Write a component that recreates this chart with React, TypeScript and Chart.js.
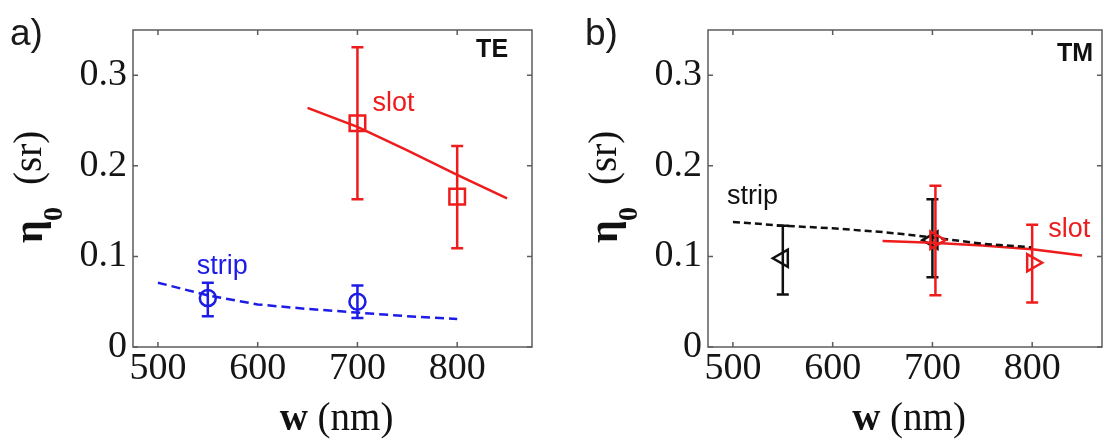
import React, { useEffect, useRef } from "react";
import { Chart, registerables } from "chart.js";

Chart.register(...registerables);

// Shared axis ticks
const xTicks = [500, 600, 700, 800];
const yTicks = [0, 0.1, 0.2, 0.3];
const yTickLabels = ["0", "0.1", "0.2", "0.3"];

// a) TE: slot waveguide (simulation + measurement)
const teSlotFitW = [650, 700, 750, 800, 850];
const teSlotFit = [0.264, 0.243, 0.217, 0.19, 0.164];
const teSlotW = [700, 800];
const teSlot = [0.247, 0.166];
const teSlotLo = [0.163, 0.109];
const teSlotHi = [0.331, 0.222];

// a) TE: strip waveguide
const teStripFitW = [500, 550, 600, 650, 700, 750, 800];
const teStripFit = [0.071, 0.057, 0.047, 0.042, 0.038, 0.034, 0.031];
const teStripW = [550, 700];
const teStrip = [0.054, 0.05];
const teStripLo = [0.034, 0.032];
const teStripHi = [0.071, 0.068];

// b) TM: strip waveguide
const tmStripFitW = [500, 550, 600, 650, 700, 750, 800];
const tmStripFit = [0.138, 0.134, 0.131, 0.127, 0.121, 0.114, 0.11];
const tmStripW = [550, 700];
const tmStrip = [0.098, 0.118];
const tmStripLo = [0.058, 0.077];
const tmStripHi = [0.134, 0.163];

// b) TM: slot waveguide
const tmSlotFitW = [650, 700, 750, 800, 850];
const tmSlotFit = [0.117, 0.115, 0.112, 0.108, 0.101];
const tmSlotW = [703, 800];
const tmSlot = [0.118, 0.093];
const tmSlotLo = [0.057, 0.049];
const tmSlotHi = [0.178, 0.135];

const RED = "#ee1c1c";
const BLUE = "#1c1ce6";
const BLACK = "#111111";
const SERIF = '"Liberation Serif", "Times New Roman", serif';
const SANS = '"Liberation Sans", Arial, sans-serif';

const pts = (xs: number[], ys: number[]) => xs.map((x, i) => ({ x, y: ys[i] }));

const fitLine = (xs: number[], ys: number[], color: string, dash: number[]) => ({
  data: pts(xs, ys),
  showLine: true,
  borderColor: color,
  borderWidth: 2.5,
  borderDash: dash,
  pointRadius: 0,
  tension: 0,
});

const measured = (
  xs: number[], ys: number[], lo: number[], hi: number[],
  color: string, style: string, radius: number, rotation = 0
) => ({
  data: pts(xs, ys),
  showLine: false,
  borderColor: color,
  backgroundColor: "rgba(0,0,0,0)",
  pointStyle: style,
  pointRadius: radius,
  pointRotation: rotation,
  pointBorderWidth: 2.5,
  pointBackgroundColor: "rgba(0,0,0,0)",
  pointBorderColor: color,
  errLo: lo,
  errHi: hi,
});

type Note = { text: string; w: number; v: number; color: string; align: CanvasTextAlign; bold?: boolean };

type PanelSpec = {
  letter: string;
  xMax: number;
  padRight: number;
  datasets: any[];
  notes: Note[];
};

const panelA: PanelSpec = {
  letter: "a)",
  xMax: 875,
  padRight: 23,
  datasets: [
    measured(teSlotW, teSlot, teSlotLo, teSlotHi, RED, "rect", 11),
    fitLine(teSlotFitW, teSlotFit, RED, []),
    measured(teStripW, teStrip, teStripLo, teStripHi, BLUE, "circle", 8),
    fitLine(teStripFitW, teStripFit, BLUE, [9, 5]),
  ],
  notes: [
    { text: "slot", w: 715, v: 0.261, color: RED, align: "left" },
    { text: "strip", w: 539, v: 0.081, color: BLUE, align: "left" },
    { text: "TE", w: 851, v: 0.32, color: BLACK, align: "right", bold: true },
  ],
};

const panelB: PanelSpec = {
  letter: "b)",
  xMax: 870,
  padRight: 28,
  datasets: [
    measured(tmSlotW, tmSlot, tmSlotLo, tmSlotHi, RED, "triangle", 10, 90),
    fitLine(tmStripFitW, tmStripFit, BLACK, [7, 4]),
    fitLine(tmSlotFitW, tmSlotFit, RED, []),
    measured(tmStripW, tmStrip, tmStripLo, tmStripHi, BLACK, "triangle", 10, -90),
  ],
  notes: [
    { text: "strip", w: 494, v: 0.158, color: BLACK, align: "left" },
    { text: "slot", w: 816, v: 0.121, color: RED, align: "left" },
    { text: "TM", w: 861, v: 0.316, color: BLACK, align: "right", bold: true },
  ],
};

// Vertical error bars with caps, drawn right after their dataset
const errorBarPlugin = {
  id: "errorBars",
  afterDatasetDraw(chart: any, args: any) {
    const ds = chart.data.datasets[args.index];
    if (!ds.errLo) return;
    const { ctx, scales } = chart;
    ctx.save();
    ctx.strokeStyle = ds.borderColor;
    ctx.lineWidth = 2.5;
    ctx.beginPath();
    ds.data.forEach((p: any, i: number) => {
      const px = scales.x.getPixelForValue(p.x);
      const yl = scales.y.getPixelForValue(ds.errLo[i]);
      const yh = scales.y.getPixelForValue(ds.errHi[i]);
      ctx.moveTo(px, yl);
      ctx.lineTo(px, yh);
      ctx.moveTo(px - 6, yl);
      ctx.lineTo(px + 6, yl);
      ctx.moveTo(px - 6, yh);
      ctx.lineTo(px + 6, yh);
    });
    ctx.stroke();
    ctx.restore();
  },
};

const framePlugin = (spec: PanelSpec) => ({
  id: "frame",
  beforeDatasetsDraw(chart: any) {
    const { ctx, chartArea: a, scales } = chart;
    ctx.save();
    ctx.strokeStyle = "#5c5c5c";
    ctx.lineWidth = 1.5;
    ctx.strokeRect(a.left, a.top, a.right - a.left, a.bottom - a.top);
    ctx.beginPath();
    for (const v of xTicks) {
      const px = scales.x.getPixelForValue(v);
      ctx.moveTo(px, a.bottom);
      ctx.lineTo(px, a.bottom - 5);
      ctx.moveTo(px, a.top);
      ctx.lineTo(px, a.top + 5);
    }
    for (const v of yTicks) {
      const py = scales.y.getPixelForValue(v);
      ctx.moveTo(a.left, py);
      ctx.lineTo(a.left + 5, py);
      ctx.moveTo(a.right, py);
      ctx.lineTo(a.right - 5, py);
    }
    ctx.stroke();
    ctx.restore();
  },
  afterDraw(chart: any) {
    const { ctx, chartArea: a, scales } = chart;
    ctx.save();
    ctx.textBaseline = "alphabetic";

    // panel letter
    ctx.fillStyle = "#1a1a1a";
    ctx.font = `37px ${SANS}`;
    ctx.textAlign = "left";
    ctx.fillText(spec.letter, 10, 45);

    // in-plot annotations
    for (const n of spec.notes) {
      ctx.fillStyle = n.color;
      ctx.font = `${n.bold ? "bold " : ""}${n.bold ? 25 : 27}px ${SANS}`;
      ctx.textAlign = n.align;
      ctx.fillText(n.text, scales.x.getPixelForValue(n.w), scales.y.getPixelForValue(n.v));
    }

    // x-axis title: bold w, plain (nm)
    ctx.fillStyle = "#111";
    ctx.textAlign = "left";
    const cx = (a.left + a.right) / 2 + 4;
    ctx.font = `bold 39px ${SERIF}`;
    const wW = ctx.measureText("w").width;
    ctx.font = `39px ${SERIF}`;
    const restW = ctx.measureText(" (nm)").width;
    const x0 = cx - (wW + restW) / 2;
    ctx.font = `bold 39px ${SERIF}`;
    ctx.fillText("w", x0, 430);
    ctx.font = `39px ${SERIF}`;
    ctx.fillText(" (nm)", x0 + wW, 430);

    // y-axis title: bold eta with bold subscript 0, then (sr)
    ctx.translate(42, 188);
    ctx.rotate(-Math.PI / 2);
    ctx.font = `bold 40px ${SERIF}`;
    ctx.fillText("η", -55, 0);
    ctx.font = `bold 28px ${SERIF}`;
    ctx.fillText("0", -33, 20);
    ctx.font = `39px ${SERIF}`;
    ctx.fillText("(sr)", 3, -1);
    ctx.restore();
  },
});

function buildConfig(spec: PanelSpec): any {
  return {
    type: "scatter",
    data: { datasets: spec.datasets },
    options: {
      responsive: false,
      animation: false,
      devicePixelRatio: 1,
      layout: { padding: { left: 0, top: 30, right: spec.padRight, bottom: 0 } },
      plugins: { legend: { display: false }, tooltip: { enabled: false } },
      scales: {
        x: {
          type: "linear",
          min: 475,
          max: spec.xMax,
          grid: { display: false, drawTicks: false },
          border: { display: false },
          afterBuildTicks: (s: any) => {
            s.ticks = xTicks.map((v) => ({ value: v }));
          },
          afterFit: (s: any) => {
            s.height = 441 - 347;
          },
          ticks: {
            padding: 3,
            color: "#151515",
            autoSkip: false,
            maxRotation: 0,
            font: { family: SERIF, size: 38, lineHeight: 1 },
            callback: (v: any) => String(v),
          },
        },
        y: {
          type: "linear",
          min: 0,
          max: 0.35,
          grid: { display: false, drawTicks: false },
          border: { display: false },
          afterBuildTicks: (s: any) => {
            s.ticks = yTicks.map((v) => ({ value: v }));
          },
          afterFit: (s: any) => {
            s.width = 133;
          },
          ticks: {
            padding: 6,
            color: "#151515",
            autoSkip: false,
            font: { family: SERIF, size: 38, lineHeight: 1 },
            callback: (_v: any, i: number) => yTickLabels[i],
          },
        },
      },
    },
    plugins: [framePlugin(spec), errorBarPlugin],
  };
}

function Panel({ spec, left }: { spec: PanelSpec; left: number }) {
  const ref = useRef<HTMLCanvasElement>(null);
  useEffect(() => {
    const chart = new Chart(ref.current as HTMLCanvasElement, buildConfig(spec));
    return () => chart.destroy();
  }, [spec]);
  return (
    <canvas
      ref={ref}
      width={555}
      height={441}
      style={{ position: "absolute", left, top: 0, width: 555, height: 441 }}
    />
  );
}

export default function App() {
  return (
    <div
      style={{
        position: "fixed",
        left: 0,
        top: 0,
        width: 1103,
        height: 441,
        overflow: "hidden",
        background: "#ffffff",
      }}
    >
      <Panel spec={panelA} left={0} />
      <Panel spec={panelB} left={575} />
    </div>
  );
}
